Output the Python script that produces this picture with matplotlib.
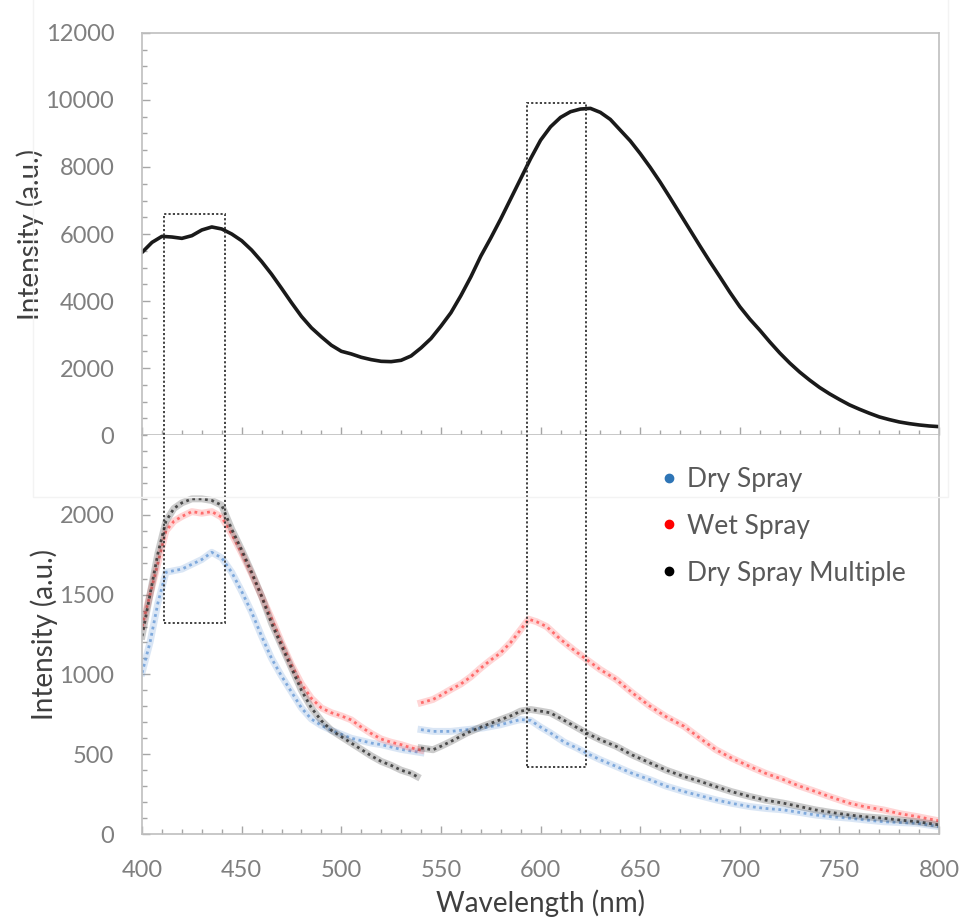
import matplotlib
matplotlib.use("Agg")
import matplotlib.pyplot as plt
from matplotlib.patches import Rectangle
from matplotlib.lines import Line2D
from matplotlib.ticker import MultipleLocator

plt.rcParams["font.family"] = ["Lato", "DejaVu Sans"]

# absorbance-like reference spectrum (top panel)
top_wl = [400, 405, 410, 415, 420, 425, 430, 435, 440, 445, 450, 455, 460, 465,
          470, 475, 480, 485, 490, 495, 500, 505, 510, 515, 520, 525, 530, 535,
          540, 545, 550, 555, 560, 565, 570, 575, 580, 585, 590, 595, 600, 605,
          610, 615, 620, 625, 630, 635, 640, 645, 650, 655, 660, 665, 670, 675,
          680, 685, 690, 695, 700, 705, 710, 715, 720, 725, 730, 735, 740, 745,
          750, 755, 760, 765, 770, 775, 780, 785, 790, 795, 800]
top_int = [5450, 5750, 5930, 5910, 5870, 5950, 6120, 6210, 6150, 6000, 5800, 5520,
           5180, 4800, 4380, 3950, 3540, 3200, 2930, 2680, 2500, 2420, 2320, 2250,
           2200, 2190, 2230, 2360, 2600, 2880, 3250, 3650, 4160, 4720, 5340, 5880,
           6450, 7050, 7650, 8250, 8800, 9200, 9480, 9650, 9730, 9750, 9630, 9420,
           9100, 8780, 8400, 7990, 7550, 7080, 6600, 6120, 5640, 5170, 4720, 4260,
           3830, 3460, 3130, 2780, 2450, 2150, 1880, 1640, 1420, 1230, 1060, 900,
           770, 650, 540, 460, 390, 340, 300, 270, 250]

# emission spectra (bottom panel), two acquisition windows each
dry_wl_a = [400, 404, 408, 412, 416, 420, 425, 430, 435, 440, 445, 450, 455, 460,
            465, 470, 475, 480, 485, 490, 495, 500, 505, 510, 515, 520, 525, 530,
            535, 540]
dry_int_a = [1010, 1200, 1450, 1640, 1650, 1660, 1690, 1720, 1765, 1730, 1640, 1520,
             1390, 1240, 1100, 990, 890, 790, 720, 680, 650, 625, 600, 585, 570, 560,
             545, 530, 520, 510]
dry_wl_b = [540, 546, 555, 563, 571, 580, 586, 590, 595, 600, 605, 612, 618, 623,
            630, 638, 646, 655, 663, 672, 680, 688, 696, 705, 713, 722, 730, 738,
            746, 755, 763, 772, 780, 789, 800]
dry_int_b = [654, 643, 643, 654, 664, 685, 705, 717, 712, 670, 633, 575, 540, 507,
             465, 423, 380, 340, 300, 266, 240, 214, 192, 172, 160, 151, 135, 119,
             108, 99, 88, 77, 72, 67, 46]

wet_wl_a = [400, 404, 408, 412, 416, 420, 425, 430, 435, 440, 445, 450, 455, 460,
            465, 470, 475, 480, 485, 490, 495, 500, 505, 510, 515, 520, 525, 530,
            535, 540]
wet_int_a = [1300, 1500, 1700, 1900, 1960, 1990, 2020, 2010, 2020, 1985, 1880, 1760,
             1630, 1490, 1350, 1200, 1060, 940, 850, 790, 760, 740, 715, 670, 630,
             595, 575, 560, 540, 525]
wet_wl_b = [540, 546, 550, 555, 560, 565, 570, 575, 580, 585, 590, 594, 598, 603,
            610, 617, 623, 630, 638, 646, 655, 663, 672, 680, 688, 696, 705, 713,
            722, 730, 738, 746, 755, 763, 772, 780, 789, 800]
wet_int_b = [822, 843, 870, 906, 940, 985, 1040, 1090, 1136, 1200, 1280, 1346, 1330,
             1300, 1220, 1150, 1094, 1030, 968, 885, 800, 735, 675, 600, 528, 475,
             423, 380, 340, 300, 266, 230, 193, 170, 151, 128, 109, 82]

multi_wl_a = [400, 404, 408, 412, 416, 420, 425, 430, 435, 440, 445, 450, 455, 460,
              465, 470, 475, 480, 485, 490, 495, 500, 505, 510, 515, 520, 525, 530,
              535, 538]
multi_int_a = [1240, 1500, 1760, 1960, 2040, 2075, 2100, 2100, 2090, 2060, 1910, 1780,
               1640, 1490, 1320, 1180, 1040, 900, 790, 710, 650, 610, 570, 530, 490,
               455, 430, 400, 380, 360]
multi_wl_b = [540, 546, 550, 555, 563, 571, 580, 586, 590, 595, 600, 605, 615, 623,
              630, 638, 646, 655, 663, 672, 680, 688, 696, 705, 713, 722, 730, 738,
              746, 755, 763, 772, 780, 789, 800]
multi_int_b = [539, 528, 550, 580, 633, 675, 717, 745, 770, 780, 770, 759, 690, 633,
               590, 549, 495, 445, 400, 360, 330, 297, 265, 235, 212, 193, 172, 151,
               135, 119, 108, 99, 88, 77, 57]

# highlighted regions: wavelength span, top edge (top panel units), bottom edge (bottom panel units)
box_spans = [(411, 441.5), (593, 623)]
box_tops = [6600, 9900]
box_bottoms = [1320, 420]

AX_COLOR = "#bfbfbf"
TICK_TXT = "#7f7f7f"
LABEL_TXT = "#3f3f3f"

fig = plt.figure(figsize=(9.63, 9.24), dpi=100)
# faint chart-area frame of the upper chart
fig.add_artist(Rectangle((0.034, 0.462), 0.95, 0.54, transform=fig.transFigure,
                         fill=False, edgecolor="#f3f3f3", linewidth=1))

ax_top = fig.add_axes([0.1475, 0.5292, 0.8277, 0.4351])
ax_bot = fig.add_axes([0.1475, 0.0974, 0.8277, 0.4318])

ax_top.plot(top_wl, top_int, color="#1a1a1a", linewidth=2.6, solid_capstyle="round")
ax_top.set_ylim(0, 12000)
ax_top.set_xlim(400, 800)
ax_top.yaxis.set_major_locator(MultipleLocator(2000))
ax_top.yaxis.set_minor_locator(MultipleLocator(500))
ax_top.xaxis.set_major_locator(MultipleLocator(50))
ax_top.xaxis.set_minor_locator(MultipleLocator(10))
ax_top.tick_params(axis="x", labelbottom=False)

series = [
    (dry_wl_a, dry_int_a, dry_wl_b, dry_int_b, "#6f9fd8", "Dry Spray", "#2e75b6"),
    (wet_wl_a, wet_int_a, wet_wl_b, wet_int_b, "#ff5a5a", "Wet Spray", "#ff0000"),
    (multi_wl_a, multi_int_a, multi_wl_b, multi_int_b, "#333333", "Dry Spray Multiple", "#000000"),
]
handles = []
for wa, ia, wb, ib, col, lab, mcol in series:
    for w, i in ((wa, ia), (wb, ib)):
        ax_bot.plot(w, i, color=col, linewidth=5, alpha=0.25)
        ax_bot.plot(w, i, color=col, linewidth=2, linestyle=(0, (1, 1.3)), alpha=0.85)
    handles.append(Line2D([], [], linestyle="none", marker="o", markersize=6,
                          color=mcol, label=lab))

ax_bot.set_ylim(0, 2500)
ax_bot.set_xlim(400, 800)
ax_bot.set_yticks([0, 500, 1000, 1500, 2000])
ax_bot.yaxis.set_minor_locator(MultipleLocator(100))
ax_bot.xaxis.set_major_locator(MultipleLocator(50))
ax_bot.xaxis.set_minor_locator(MultipleLocator(10))
ax_bot.spines["top"].set_visible(False)

for ax in (ax_top, ax_bot):
    for sp in ax.spines.values():
        sp.set_color(AX_COLOR)
        sp.set_linewidth(1.2)
    ax.tick_params(which="both", direction="in", color="#a6a6a6", labelcolor=TICK_TXT,
                   labelsize=17)
    ax.tick_params(which="major", length=6, width=1)
    ax.tick_params(which="minor", length=3.5, width=1)
    ax.tick_params(axis="y", which="both", pad=20)
    ax.tick_params(axis="x", which="both", pad=19)
    ax.set_ylabel("Intensity (a.u.)", fontsize=20, color=LABEL_TXT, labelpad=1)

ax_bot.set_xlabel("Wavelength (nm)", fontsize=20, color=LABEL_TXT, labelpad=6)

leg = ax_bot.legend(handles=handles, loc="upper left", bbox_to_anchor=(0.612, 0.98),
                    frameon=False, fontsize=19, handletextpad=0.05, labelspacing=0.83,
                    handlelength=1.2)
for t in leg.get_texts():
    t.set_color("#595959")

# dotted boxes spanning both panels
to_bot = ax_bot.transData.inverted()
for (x0, x1), top, bottom in zip(box_spans, box_tops, box_bottoms):
    top_in_bot = to_bot.transform(ax_top.transData.transform((x0, top)))[1]
    ax_bot.add_patch(Rectangle((x0, bottom), x1 - x0, top_in_bot - bottom, fill=False,
                               edgecolor="#333333", linewidth=1.3,
                               linestyle=(0, (1.2, 1.2)), clip_on=False, zorder=5))

fig.savefig("out.png", dpi=100)
